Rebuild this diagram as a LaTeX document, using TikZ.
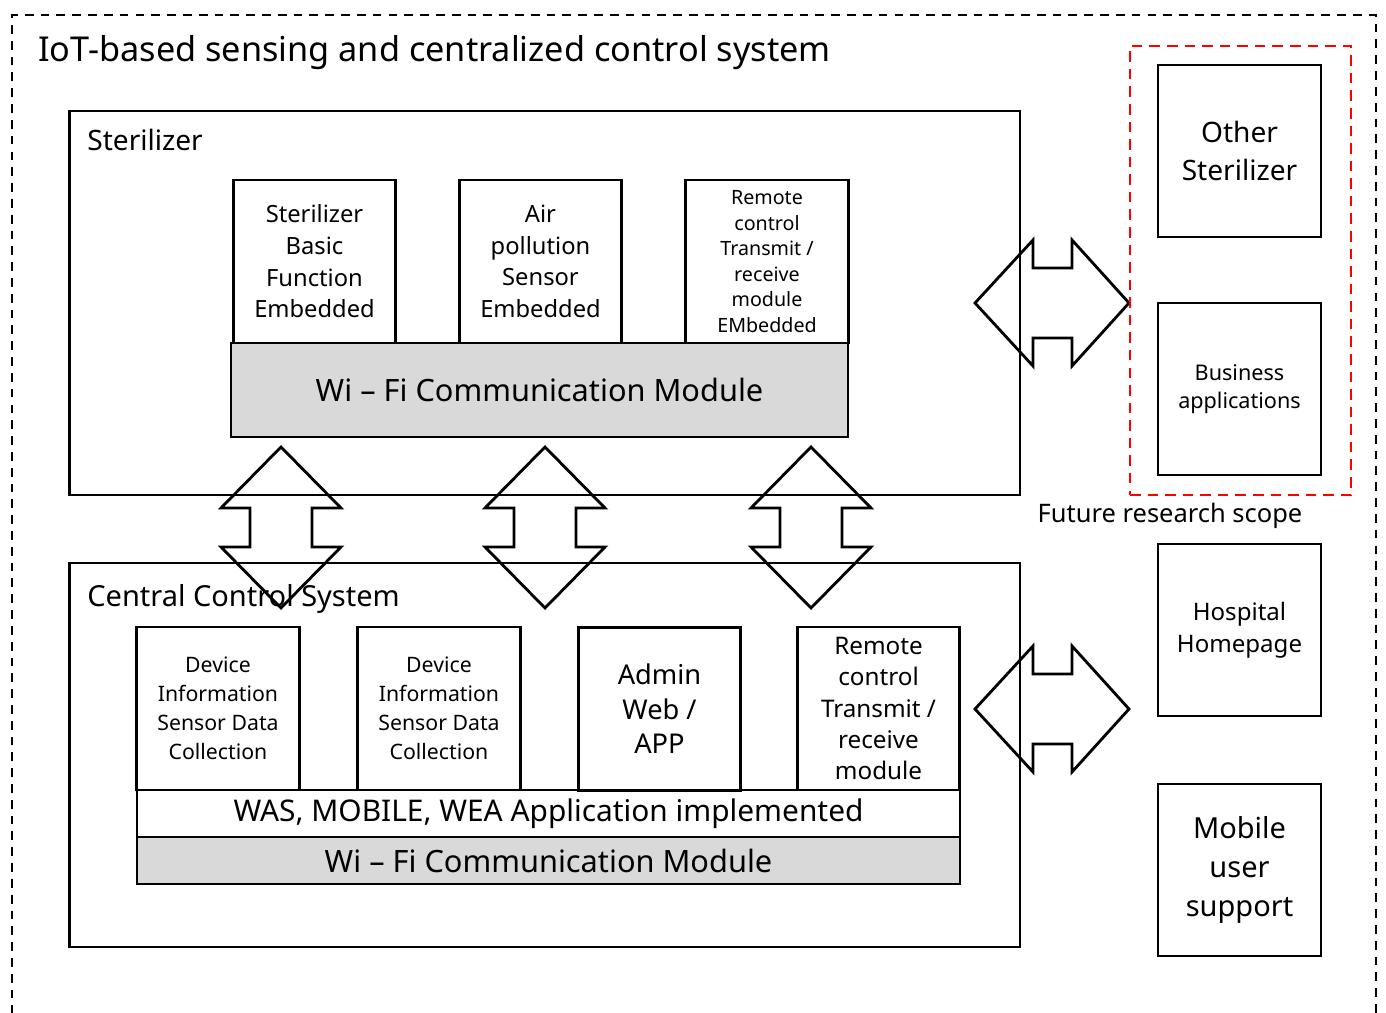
\documentclass[tikz,border=0pt]{standalone}
\usepackage{fontspec}
\setmainfont{Noto Sans}
\usepackage{xcolor}
\definecolor{wifigray}{RGB}{217,217,217}

\begin{document}
\begin{tikzpicture}[x=0.02cm,y=-0.02cm,
                    box/.style={draw,line width=1.6pt,inner sep=0pt,align=center},
                    frame/.style={box,minimum width=19.02cm,minimum height=7.68cm},
                    cell/.style={box,minimum width=3.25cm,minimum height=3.26cm},
                    side/.style={box,minimum width=3.26cm,minimum height=3.44cm},
                    wifibar/.style={box,fill=wifigray},
                    dblarrow/.style={draw,line width=1.6pt},
                    fs/.style 2 args={font=\fontsize{#1}{#2}\selectfont}]
\useasboundingbox (0,0) rectangle (1386,1013);

\draw[line width=1.2pt,dash pattern=on 5pt off 4pt] (12,1030) -- (12,15) -- (1376,15) -- (1376,1030);
\node[anchor=base west,inner sep=0pt,fs={19.5}{24}] (Title) at (38,62) {IoT-based sensing and centralized control system};

\node (Sterilizer) [frame] at (544.5,303) {};
\node[anchor=base west,inner sep=0pt,fs={16}{20}] (SterilizerLabel) at (87,151) {Sterilizer};
\node (Basic) [cell,fs={13.5}{18}] at (314.5,261.5) {Sterilizer\\Basic\\Function\\Embedded};
\node (Air) [cell,fs={13.5}{18}] at (540.5,261.5) {Air\\pollution\\Sensor\\Embedded};
\node (RemoteS) [cell,fs={11.2}{14.5}] at (767,261.5) {Remote\\control\\Transmit /\\receive\\module\\EMbedded};
\node (WifiS) [wifibar,minimum width=12.34cm,minimum height=1.88cm,fs={17.5}{20}] at (539.5,390) {Wi -- Fi Communication Module};

\node (Central) [frame] at (544.5,755) {};
\node[anchor=base west,inner sep=0pt,fs={16.5}{20}] (CentralLabel) at (87,606) {Central Control System};
\node (DevA) [cell,fs={12.1}{16.5}] at (218,708.5) {Device\\Information\\Sensor Data\\Collection};
\node (DevB) [cell,fs={12.1}{16.5}] at (439,708.5) {Device\\Information\\Sensor Data\\Collection};
\node (Admin) [cell,fs={15.5}{19.6}] at (659.5,709) {Admin\\Web /\\APP};
\node (RemoteC) [cell,fs={13.8}{17.9}] at (878.5,708.5) {Remote\\control\\Transmit /\\receive\\module};
\node (WAS) [box,minimum width=16.46cm,minimum height=0.94cm,fs={17}{20}] at (548.5,813.5) {WAS, MOBILE, WEA Application implemented};
\node (WifiC) [wifibar,minimum width=16.46cm,minimum height=0.94cm,fs={17.5}{20}] at (548.5,860.5) {Wi -- Fi Communication Module};

\foreach \x in {281,545,811}
  \draw[dblarrow] (\x,447) -- (\x+60,508) -- (\x+31,508) -- (\x+31,547) -- (\x+60,547) -- (\x,608)
                  -- (\x-60,547) -- (\x-31,547) -- (\x-31,508) -- (\x-60,508) -- cycle;

\foreach \y in {303,709}
  \draw[dblarrow] (975,\y) -- (1033,\y-63) -- (1033,\y-35) -- (1072,\y-35) -- (1072,\y-63) -- (1129,\y)
                  -- (1072,\y+63) -- (1072,\y+35) -- (1033,\y+35) -- (1033,\y+63) -- cycle;

\node (Scope) [draw=red,line width=1.4pt,dash pattern=on 6pt off 4pt,inner sep=0pt,
               minimum width=4.42cm,minimum height=8.98cm] at (1240.5,270.5) {};
\node (Other) [side,fs={16}{21.5}] at (1239.5,151) {Other\\Sterilizer};
\node (Business) [side,fs={12.3}{16}] at (1239.5,389) {Business\\applications};
\node[anchor=base,inner sep=0pt,fs={14.5}{18}] (ScopeLabel) at (1170,522) {Future research scope};

\node (Hospital) [side,fs={13.7}{18.2}] at (1239.5,630) {Hospital\\Homepage};
\node (Mobile) [side,fs={16.5}{22}] at (1239.5,870) {Mobile\\user\\support};

\end{tikzpicture}
\end{document}
